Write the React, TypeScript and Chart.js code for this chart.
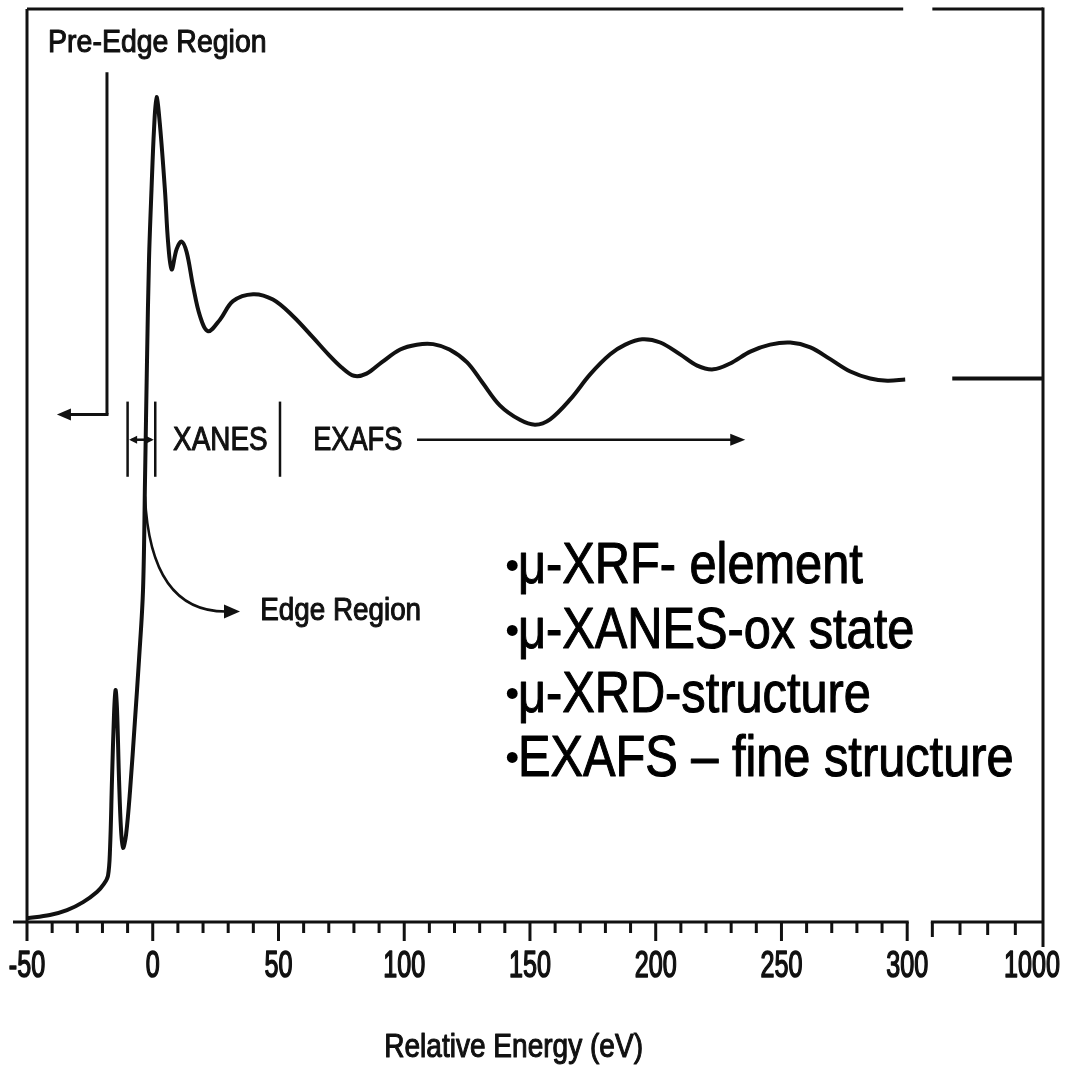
import React, { useEffect, useRef } from "react";
import { Chart, registerables } from "chart.js";

Chart.register(...registerables);

// ---------- data (relative energy in eV, normalised absorption) ----------
const ENERGY = [
  -50, -40.9, -34.1, -27.7, -22.2, -19.4, -17.8, -17.0, -16.2, -15.4, -14.8, -14.2, -13.4, -12.6,
  -11.8, -10.6, -9.0, -7.05, -5.45, -3.86, -3.07, -2.27, -1.48, -0.48, 0.52, 1.5, 2.9, 4.9, 6.1,
  7.5, 9.5, 11.5, 13.5, 16, 18.8, 22, 26.8, 31.9, 39.9, 47.8, 55.8, 63.8, 70, 75, 80, 85, 91, 98.4,
  105, 111.5, 118, 125, 131, 138, 146, 152.1, 158, 166, 174, 181.9, 187.9, 194.6, 201.8, 209.7,
  216.5, 222.9, 229.6, 237.6, 245.5, 253.5, 261.5, 269.4, 277.4, 285.3, 292.1, 299.2,
];
const ABSORBANCE = [
  0.007, 0.013, 0.022, 0.037, 0.056, 0.071, 0.086, 0.134, 0.265, 0.386, 0.432, 0.395, 0.265, 0.171,
  0.138, 0.163, 0.246, 0.377, 0.489, 0.619, 0.824, 1.048, 1.234, 1.365, 1.477, 1.536, 1.482, 1.359,
  1.266, 1.215, 1.253, 1.267, 1.247, 1.185, 1.128, 1.1, 1.122, 1.156, 1.169, 1.159, 1.128, 1.088,
  1.056, 1.033, 1.017, 1.021, 1.042, 1.066, 1.075, 1.076, 1.066, 1.042, 1.005, 0.962, 0.935, 0.926,
  0.936, 0.973, 1.02, 1.057, 1.075, 1.085, 1.079, 1.057, 1.036, 1.029, 1.04, 1.062, 1.075, 1.079,
  1.07, 1.048, 1.025, 1.012, 1.008, 1.01,
];
const TAIL_ENERGY = [836, 1000];
const TAIL_ABSORBANCE = [1.012, 1.012];

// ---------- axis ticks / labels ----------
const MAJOR_TICKS = [-50, 0, 50, 100, 150, 200, 250, 300];
const MAJOR_LABELS = ["-50", "0", "50", "100", "150", "200", "250", "300"];
const MINOR_TICKS = [
  -40, -30, -20, -10, 10, 20, 30, 40, 60, 70, 80, 90, 110, 120, 130, 140, 160, 170, 180, 190,
  210, 220, 230, 240, 260, 270, 280, 290,
];
const BREAK_MINOR_TICKS = [850, 900, 950];
const BREAK_START_TICK = 800;
const BREAK_END_TICK = 1000;
const BREAK_END_LABEL = "1000";
const AXIS_TITLE = "Relative Energy (eV)";

// ---------- annotations ----------
const PRE_EDGE_LABEL = "Pre-Edge Region";
const XANES_LABEL = "XANES";
const EXAFS_LABEL = "EXAFS";
const EDGE_LABEL = "Edge Region";
const REGION_BOUNDS = [-10, 1, 50.6];
const BULLET = "•";
const BULLETS = ["μ-XRF- element", "μ-XANES-ox state", "μ-XRD-structure", "EXAFS – fine structure"];
const BULLET_LEVELS = [0.66, 0.539, 0.421, 0.302];

// broken axis: 300 eV continues after a gap with the 800–1000 eV segment
function toAxis(e: number): number {
  return e <= 300 ? e : 310 + ((e - 800) * 44) / 200;
}

const INK = "#111111";
const FONT = '"Liberation Sans", Arial, Helvetica, sans-serif';

function seg(ctx: CanvasRenderingContext2D, x1: number, y1: number, x2: number, y2: number) {
  ctx.beginPath();
  ctx.moveTo(x1, y1);
  ctx.lineTo(x2, y2);
  ctx.stroke();
}

function head(ctx: CanvasRenderingContext2D, tx: number, ty: number, ang: number, len: number, half: number) {
  const c = Math.cos(ang), s = Math.sin(ang);
  ctx.beginPath();
  ctx.moveTo(tx, ty);
  ctx.lineTo(tx - c * len - s * half, ty - s * len + c * half);
  ctx.lineTo(tx - c * len + s * half, ty - s * len - c * half);
  ctx.closePath();
  ctx.fill();
}

function text(
  ctx: CanvasRenderingContext2D,
  s: string,
  x: number,
  y: number,
  size: number,
  sx: number,
  align: CanvasTextAlign = "left",
  baseline: CanvasTextBaseline = "middle",
  color = INK,
  weight = 0
) {
  ctx.save();
  ctx.font = `${size}px ${FONT}`;
  ctx.textAlign = align;
  ctx.textBaseline = baseline;
  ctx.fillStyle = color;
  ctx.strokeStyle = color;
  ctx.lineJoin = "round";
  ctx.translate(x, y);
  ctx.scale(sx, 1);
  ctx.fillText(s, 0, 0);
  if (weight > 0) {
    ctx.lineWidth = weight;
    ctx.strokeText(s, 0, 0);
  }
  ctx.restore();
}

const overlay = {
  id: "overlay",
  afterDatasetsDraw(chart: any) {
    const { ctx, chartArea: a, scales } = chart;
    const X = (e: number) => scales.x.getPixelForValue(toAxis(e));
    const Y = (v: number) => scales.y.getPixelForValue(v);
    ctx.save();
    ctx.strokeStyle = INK;
    ctx.fillStyle = INK;
    ctx.lineCap = "butt";

    // frame
    ctx.lineWidth = 3;
    const xL = X(-50), x300 = X(300), xB = X(BREAK_START_TICK), xR = X(BREAK_END_TICK);
    const yT = a.top, yB = a.bottom;
    seg(ctx, xL, yT, xL, yB);
    seg(ctx, xL, yT, x300 - 4, yT);
    seg(ctx, xB, yT, xR, yT);
    seg(ctx, xR, yT - 1.5, xR, yB + 25);
    // x axis
    seg(ctx, xL - 14, yB, x300 + 1.5, yB);
    seg(ctx, xB - 1.5, yB, xR, yB);
    MAJOR_TICKS.forEach((t) => seg(ctx, X(t), yB, X(t), yB + 19));
    MINOR_TICKS.forEach((t) => seg(ctx, X(t), yB, X(t), yB + 11));
    seg(ctx, xB, yB, xB, yB + 15);
    BREAK_MINOR_TICKS.forEach((t) => seg(ctx, X(t), yB, X(t), yB + 13));
    // tick labels
    MAJOR_TICKS.forEach((t, i) => text(ctx, MAJOR_LABELS[i], X(t), yB + 45, 37, 0.68, "center", "middle", INK, 1.6));
    text(ctx, BREAK_END_LABEL, xR - 11, yB + 45, 37, 0.68, "center", "middle", INK, 1.6);
    text(ctx, AXIS_TITLE, X(143.5), yB + 135, 33, 0.85, "center", "alphabetic", INK, 1.1);

    // pre-edge region marker
    ctx.lineWidth = 3;
    const xp = X(-18.2);
    seg(ctx, xp, Y(1.582), xp, Y(0.945));
    seg(ctx, xp + 1.5, Y(0.945), X(-33), Y(0.945));
    head(ctx, X(-38.1), Y(0.945), Math.PI, 14, 6);
    text(ctx, PRE_EDGE_LABEL, X(-41.6), Y(1.62), 32, 0.89, "left", "alphabetic", INK, 1.1);

    // XANES / EXAFS markers
    ctx.lineWidth = 2.5;
    REGION_BOUNDS.forEach((b) => seg(ctx, X(b), Y(0.969), X(b), Y(0.829)));
    const ya = Y(0.898);
    seg(ctx, X(REGION_BOUNDS[0]) + 4, ya, X(REGION_BOUNDS[1]) - 4, ya);
    head(ctx, X(REGION_BOUNDS[0]) + 1.5, ya, Math.PI, 8, 4);
    head(ctx, X(REGION_BOUNDS[1]) - 1.5, ya, 0, 8, 4);
    text(ctx, XANES_LABEL, X(8.1), ya + 1, 34, 0.82, "left", "middle", INK, 1.1);
    text(ctx, EXAFS_LABEL, X(63.8), ya + 1, 34, 0.8, "left", "middle", INK, 1.1);
    seg(ctx, X(105.1), ya, X(231), ya);
    head(ctx, X(235.6), ya, 0, 15, 6);

    // edge region arrow
    ctx.lineWidth = 2.5;
    const ye = Y(0.578);
    ctx.beginPath();
    ctx.moveTo(X(-3.07), Y(0.792));
    ctx.quadraticCurveTo(X(-1), ye, X(29), ye);
    ctx.stroke();
    head(ctx, X(34.7), ye, 0, 16, 7);
    text(ctx, EDGE_LABEL, X(42.7), ye, 32, 0.87, "left", "middle", INK, 1.1);

    // technique list
    BULLETS.forEach((b, i) => {
      const yy = Y(BULLET_LEVELS[i]);
      text(ctx, BULLET, X(140.2), yy, 40, 1, "left", "middle", "#000", 0);
      text(ctx, b, X(145.2), yy, 57, 0.855, "left", "middle", "#000", 1.1);
    });

    ctx.restore();
  },
};

export default function App() {
  const ref = useRef<HTMLCanvasElement | null>(null);
  useEffect(() => {
    if (!ref.current) return;
    const chart = new Chart(ref.current, {
      type: "line",
      data: {
        datasets: [
          {
            data: ENERGY.map((e, i) => ({ x: toAxis(e), y: ABSORBANCE[i] })),
            borderColor: INK,
            borderWidth: 4,
            pointRadius: 0,
            tension: 0.35,
            fill: false,
          },
          {
            data: TAIL_ENERGY.map((e, i) => ({ x: toAxis(e), y: TAIL_ABSORBANCE[i] })),
            borderColor: INK,
            borderWidth: 4,
            pointRadius: 0,
            fill: false,
          },
        ],
      },
      options: {
        animation: false,
        responsive: true,
        maintainAspectRatio: false,
        layout: { padding: { left: 27, right: 22, top: 9, bottom: 148 } },
        scales: {
          x: { type: "linear", min: -50, max: 354, display: false },
          y: { type: "linear", min: 0, max: 1.7, display: false },
        },
        plugins: { legend: { display: false }, tooltip: { enabled: false } },
      },
      plugins: [overlay],
    } as any);
    return () => chart.destroy();
  }, []);
  return (
    <div style={{ position: "absolute", left: 0, top: 0, width: 1065, height: 1070, background: "#fff" }}>
      <canvas ref={ref} />
    </div>
  );
}
